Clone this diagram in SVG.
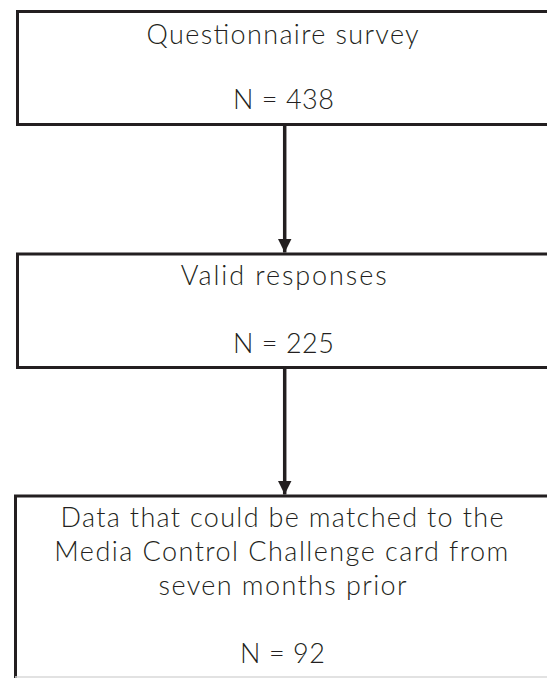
<svg xmlns="http://www.w3.org/2000/svg" width="547" height="678" viewBox="0 0 547 678">
<defs>
<style>
.box{fill:#ffffff;stroke:#231f20;stroke-width:3}
.t{font-family:Lato,Inter,"Liberation Sans",sans-serif;font-weight:300;font-size:27px;fill:#231f20;text-anchor:middle}
.conn{stroke:#231f20;stroke-width:3.5;fill:none}
</style>
<marker id="ah" markerUnits="userSpaceOnUse" markerWidth="16" markerHeight="14" refX="14" refY="7" orient="auto">
<path d="M0,0 L14,7 L0,14 Z" fill="#231f20"/>
</marker>
</defs>
<rect width="547" height="678" fill="#ffffff"/>
<g id="connectors">
<line class="conn" x1="284.7" y1="126" x2="284.7" y2="252.5" marker-end="url(#ah)"/>
<line class="conn" x1="284.7" y1="368.5" x2="284.7" y2="494.5" marker-end="url(#ah)"/>
</g>
<g id="node-survey">
<rect class="box" x="17.5" y="11.5" width="560" height="113"/>
<text class="t" x="282.6" y="44" textLength="272" lengthAdjust="spacing">Questionnaire survey</text>
<text class="t" x="283.5" y="109" textLength="101" lengthAdjust="spacing">N = 438</text>
</g>
<g id="node-valid">
<rect class="box" x="17.5" y="254" width="560" height="113.5"/>
<text class="t" x="283.7" y="285" textLength="206" lengthAdjust="spacing">Valid responses</text>
<text class="t" x="283.5" y="353" textLength="101" lengthAdjust="spacing">N = 225</text>
</g>
<g id="node-matched">
<rect class="box" x="15.5" y="496" width="560" height="200"/>
<line x1="15" y1="677" x2="547" y2="677" stroke="#d8d8d8" stroke-width="1.5"/>
<text class="t" x="282" y="527" textLength="443" lengthAdjust="spacing">Data that could be matched to the</text>
<text class="t" x="281.3" y="561" textLength="454" lengthAdjust="spacing">Media Control Challenge card from</text>
<text class="t" x="282.6" y="595" textLength="248" lengthAdjust="spacing">seven months prior</text>
<text class="t" x="282.5" y="663" textLength="85" lengthAdjust="spacing">N = 92</text>
</g>
</svg>
